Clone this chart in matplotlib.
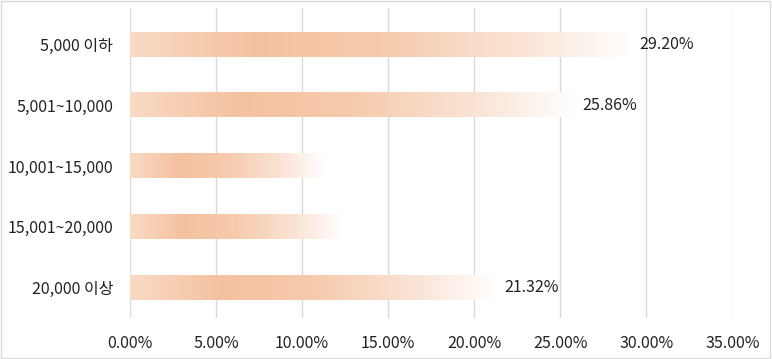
import numpy as np
import matplotlib.pyplot as plt
from matplotlib.colors import LinearSegmentedColormap
from matplotlib.patches import Rectangle

plt.rcParams['font.family'] = ['Noto Sans CJK KR', 'DejaVu Sans']

categories = ['5,000 이하', '5,001~10,000', '10,001~15,000', '15,001~20,000', '20,000 이상']
values = [29.20, 25.86, 11.3, 12.4, 21.32]
value_labels = ['29.20%', '25.86%', None, None, '21.32%']
x_ticks = [0, 5, 10, 15, 20, 25, 30, 35]

# gradient like the excel fill: light -> orange -> fade to white
cmap = LinearSegmentedColormap.from_list('grad', [
    (0.0, '#f9dac5'),
    (0.25, '#f4c19f'),
    (0.5, '#f6cbad'),
    (0.78, '#fae4d6'),
    (1.0, '#ffffff'),
])

fig = plt.figure(figsize=(7.72, 3.59), dpi=100)
ax = fig.add_axes([0.168, 0.114, 0.781, 0.864])

bar_h = 0.4
grad = np.linspace(0, 1, 256).reshape(1, -1)
for i, v in enumerate(values):
    ax.imshow(grad, cmap=cmap, aspect='auto', interpolation='bilinear',
              extent=[0, v, i + bar_h / 2, i - bar_h / 2], zorder=2)
    if value_labels[i]:
        ax.text(v + 0.4, i, value_labels[i], va='center', ha='left',
                fontsize=11.5, color='#222222', zorder=3)

ax.set_xlim(0, 35)
ax.set_ylim(4.5, -0.6)
ax.set_xticks(x_ticks)
ax.set_xticklabels([f'{t:.2f}%' for t in x_ticks], fontsize=11.5, color='#222222')
ax.set_yticks(range(len(categories)))
ax.set_yticklabels(categories, fontsize=11.5, color='#222222')
ax.tick_params(axis='both', length=0)
ax.tick_params(axis='x', pad=12)
ax.tick_params(axis='y', pad=12)
ax.grid(axis='x', color='#d9d9d9', linewidth=1, zorder=0)
ax.set_axisbelow(True)
for s in ax.spines.values():
    s.set_visible(False)

fig.patches.append(Rectangle((0.001, 0.002), 0.997, 0.995, transform=fig.transFigure,
                             fill=False, edgecolor='#d9d9d9', linewidth=1))

fig.savefig('out.png', dpi=100)
